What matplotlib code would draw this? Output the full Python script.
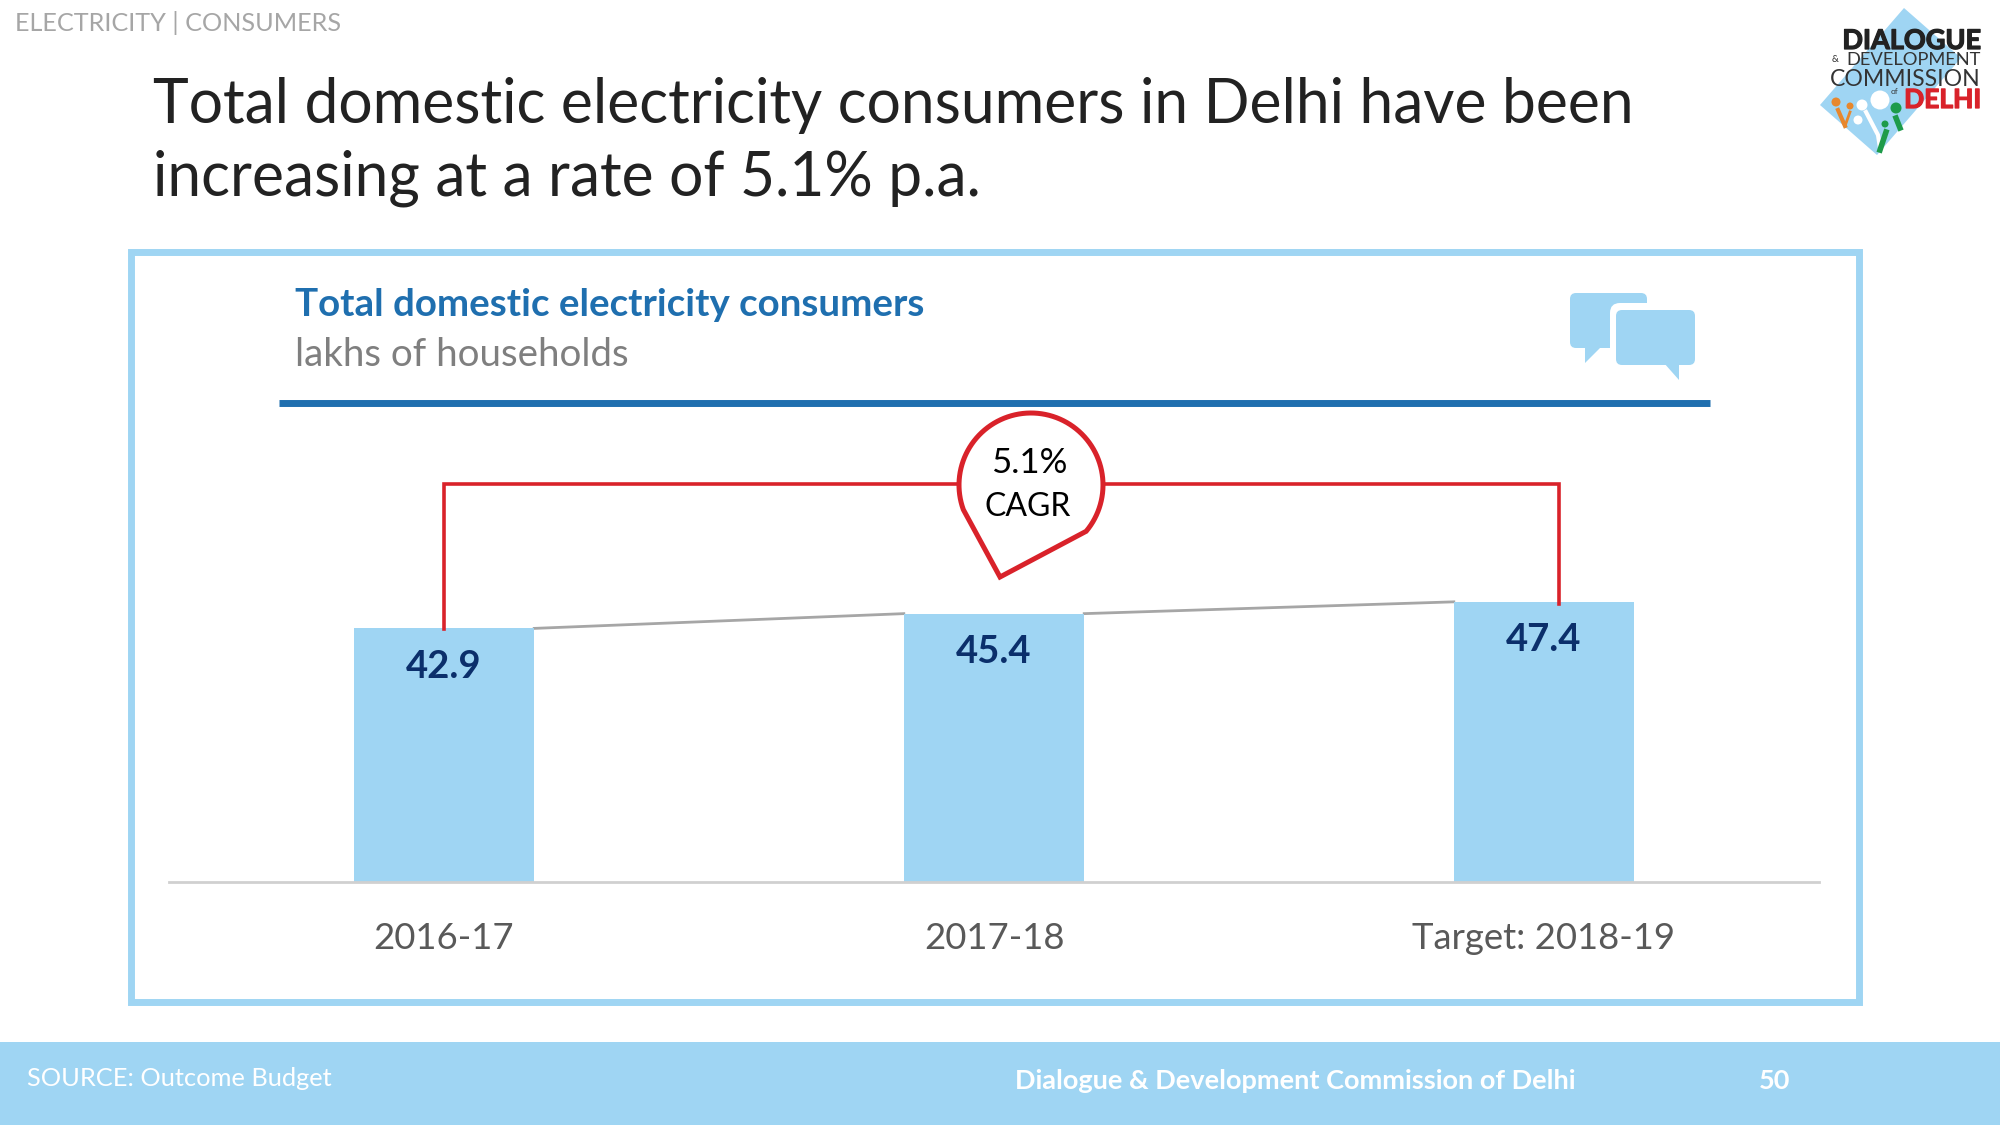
import numpy as np
import matplotlib
matplotlib.use("Agg")
import matplotlib.pyplot as plt
import matplotlib.patheffects as pe
from matplotlib.patches import Rectangle, Polygon, Circle, FancyBboxPatch

categories = ["2016-17", "2017-18", "Target: 2018-19"]
values = [42.9, 45.4, 47.4]
value_labels = ["42.9", "45.4", "47.4"]

LIGHT = "#9FD5F3"
BLUE = "#1F6FAF"
NAVY = "#0B2F6B"
RED = "#D9222A"
GREY = "#595959"

plt.rcParams["font.family"] = ["Open Sans", "DejaVu Sans"]
W, H = 2000, 1125
fig = plt.figure(figsize=(20, 11.25), dpi=100, facecolor="white")

# Overlay in pixel coordinates for slide furniture
bg = fig.add_axes([0, 0, 1, 1], zorder=0)
bg.set_xlim(0, W); bg.set_ylim(H, 0); bg.axis("off")

FONT = "Lato"
def T(x, y, s, size, color="black", weight="normal", ha="left", va="center", ax=bg, **k):
    return ax.text(x, y, s, fontsize=size, color=color, fontweight=weight, ha=ha, va=va,
                   family=FONT, **k)

T(15, 23, "ELECTRICITY | CONSUMERS", 18.2, "#A6A6A6")
T(153, 105, "Total domestic electricity consumers in Delhi have been", 43.6, "#222222")
T(153, 178, "increasing at a rate of 5.1% p.a.", 43.6, "#222222")

# Frame
bg.add_patch(Rectangle((131, 252), 1728, 750, fc="white", ec=LIGHT, lw=5))
T(295, 305, "Total domestic electricity consumers", 27.7, BLUE, weight="bold")
T(295, 355, "lakhs of households", 27.7, "#7F7F7F")
bg.plot([279, 1710], [403, 403], color=BLUE, lw=5, solid_capstyle="butt")

# Speech bubbles
bg.add_patch(Polygon([[1585, 344], [1585, 363], [1602, 346]], fc=LIGHT, ec="none"))
bg.add_patch(FancyBboxPatch((1570, 293), 77, 55, boxstyle="round,pad=0,rounding_size=6", fc=LIGHT, ec="none"))
bg.add_patch(FancyBboxPatch((1610, 303), 92, 70, boxstyle="round,pad=0,rounding_size=10", fc="white", ec="none"))
bg.add_patch(FancyBboxPatch((1616, 310), 79, 55, boxstyle="round,pad=0,rounding_size=6", fc=LIGHT, ec="none"))
bg.add_patch(Polygon([[1664, 363], [1679, 363], [1679, 380]], fc=LIGHT, ec="none"))

# Footer
bg.add_patch(Rectangle((0, 1042), W, 83, fc=LIGHT, ec="none"))
T(27, 1078, "SOURCE: Outcome Budget", 18.3, "white")
T(1015, 1081, "Dialogue & Development Commission of Delhi", 19.5, "white", weight="bold")
T(1775, 1081, "50", 19.5, "white", weight="bold", ha="center")

# Logo
bg.add_patch(Polygon([[1904, 8], [1820, 105], [1877, 155], [1961, 58]], fc=LIGHT, ec="none"))
for c, r, col in [((1836, 102), 4.5, "#E8872C"), ((1850, 106), 3.5, "#E8872C"),
                  ((1862, 105), 5.5, "white"), ((1880, 100), 9.5, "white"), ((1858, 120), 4.5, "white"),
                  ((1896, 108), 5.5, "#1E9B4A"), ((1885, 124), 3.5, "#1E9B4A")]:
    bg.add_patch(Circle(c, r, fc=col, ec="none"))
bg.plot([1838, 1845], [110, 126], color="#E8872C", lw=3)
bg.plot([1850, 1845], [112, 126], color="#E8872C", lw=2)
bg.plot([1866, 1878, 1880], [112, 135, 148], color="white", lw=3)
bg.plot([1896, 1900], [118, 128], color="#1E9B4A", lw=4)
bg.plot([1886, 1880], [132, 150], color="#1E9B4A", lw=4)
heavy = lambda c: [pe.withStroke(linewidth=0.9, foreground=c)]
T(1981, 41, "DIALOGUE", 19.5, "#222222", weight="bold", ha="right", path_effects=heavy("#222222"))
T(1832, 60, "&", 7, "#333333", ha="left")
T(1981, 60, "DEVELOPMENT", 13.2, "#333333", ha="right")
T(1981, 79, "COMMISSION", 16.6, "#333333", ha="right")
T(1891, 92, "of", 6, "#333333", ha="left")
T(1981, 100, "DELHI", 19, RED, weight="bold", ha="right", path_effects=heavy(RED))

# Chart axes: baseline at y=881.5 px, 5.886 px per unit, categories 550 px apart
left, right, bottom, top = 169, 1819, 881.5, 581.5
ax = fig.add_axes([left / W, 1 - bottom / H, (right - left) / W, (bottom - top) / H], zorder=1)
ax.patch.set_alpha(0)
x = np.arange(len(values))
bw = 0.328
ax.bar(x, values, width=bw, color=LIGHT, zorder=2)
for i in range(len(values) - 1):
    ax.plot([x[i] + bw / 2, x[i + 1] - bw / 2], [values[i], values[i + 1]], color="#A6A6A6", lw=2, zorder=1)
ax.set_xlim(-0.5, 2.5)
ax.set_ylim(0, (bottom - top) / 5.9)
ax.set_yticks([])
ax.set_xticks(x)
ax.set_xticklabels(categories, fontsize=26.3, color=GREY, family=FONT)
ax.tick_params(axis="x", length=0, pad=29)
for s in ["top", "left", "right"]:
    ax.spines[s].set_visible(False)
ax.spines["bottom"].set_color("#D0D0D0")
ax.spines["bottom"].set_linewidth(2)
for xi, v, lab in zip(x, values, value_labels):
    ax.annotate(lab, (xi, v), xytext=(0, -27.5), textcoords="offset points", ha="center", va="center",
                fontsize=27.5, fontweight="bold", color=NAVY, family=FONT)

# CAGR bracket and drop (same pixel space, above the chart)
fg = fig.add_axes([0, 0, 1, 1], zorder=2)
fg.set_xlim(0, W); fg.set_ylim(H, 0); fg.axis("off"); fg.patch.set_alpha(0)
fg.plot([444, 444, 960], [629, 484, 484], color=RED, lw=2.6, solid_joinstyle="miter")
fg.plot([1102, 1559, 1559], [484, 484, 604], color=RED, lw=2.6, solid_joinstyle="miter")
cx, cy, r = 1031, 485, 72
tip = (1000, 577)
pts = [(cx + r * np.cos(t), cy - r * np.sin(t)) for t in np.linspace(np.deg2rad(200), np.deg2rad(-40), 80)]
fg.add_patch(Polygon(pts + [tip], closed=True, fc="white", ec=RED, lw=3.6, joinstyle="miter", zorder=3))
T(1029, 463, "5.1%", 25, "black", ha="center", ax=fg, zorder=4)
T(1028, 507, "CAGR", 23, "black", ha="center", ax=fg, zorder=4)

fig.savefig("out.png", dpi=100)
